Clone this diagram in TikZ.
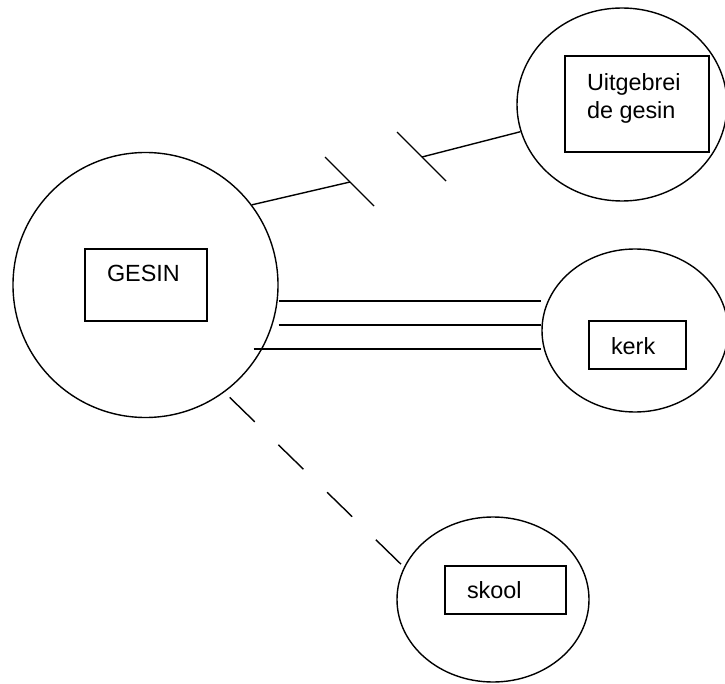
\documentclass[tikz,border=0pt]{standalone}
\usepackage{fontspec}
\setmainfont{Liberation Sans}
\usetikzlibrary{shapes.geometric,positioning}
\begin{document}
\begin{tikzpicture}[
x=1pt,y=-1pt,
line width=1.4pt,
bubble/.style={draw,ellipse,inner sep=0pt},
frame/.style={draw,rectangle,inner sep=0pt},
lbl/.style={inner sep=0pt,align=left,font=\fontsize{23.4}{28}\selectfont}]
\useasboundingbox (0,0) rectangle (725,684);
\node[bubble,circle,minimum size=265pt] (gesin) at (145.5,285) {};
\node[bubble,minimum width=210pt,minimum height=193pt] (uitg) at (622,104.5) {};
\node[bubble,minimum width=186pt,minimum height=163pt] (kerk) at (635,330.5) {};
\node[bubble,minimum width=192pt,minimum height=165pt] (skool) at (493,599.5) {};
\node[frame,minimum width=122pt,minimum height=72pt] (gesinbox) at (146,285) {};
\node[frame,minimum width=144pt,minimum height=96pt] (uitgbox) at (637,104) {};
\node[frame,minimum width=97pt,minimum height=48pt] (kerkbox) at (637.5,345) {};
\node[frame,minimum width=121pt,minimum height=48pt] (skoolbox) at (505.5,590) {};
\node[lbl,below right=16.5pt and 22pt of gesinbox.north west] (gesintxt) {GESIN};
\node[lbl,below right=18pt and 22pt of uitgbox.north west] (uitgtxt) {Uitgebrei\\de gesin};
\node[lbl,below right=17pt and 22pt of kerkbox.north west] (kerktxt) {kerk};
\node[lbl,below right=16pt and 22pt of skoolbox.north west] (skooltxt) {skool};
\coordinate (brkA) at (350,182);
\coordinate (brkB) at (422,157);
\draw (gesin.37) -- (brkA);
\draw (brkB) -- (uitg.195);
\draw ([shift={(-25,-25)}]brkA) -- ([shift={(24,24)}]brkA);
\draw ([shift={(-25,-25)}]brkB) -- ([shift={(24,24)}]brkB);
\foreach \dy/\dx in {16/0,40/0,64/-25}
  \draw ([shift={(\dx,\dy)}]gesin.east) coordinate (s) -- (s -| kerk.west);
\draw[dash pattern=on 35pt off 33pt] ([shift={(4,6)}]gesin.-53) -- (skool.160);
\end{tikzpicture}
\end{document}
